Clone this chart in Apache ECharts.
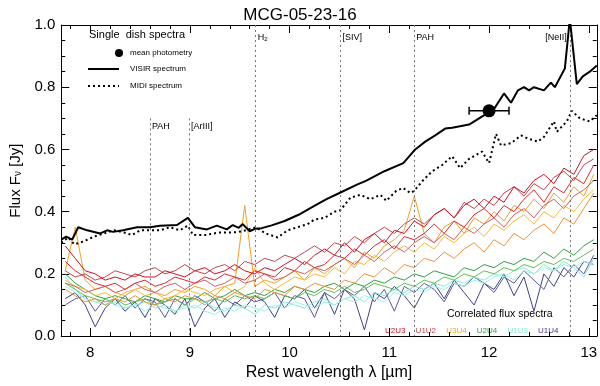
<!DOCTYPE html>
<html>
<head>
<meta charset="utf-8">
<script src="https://cdn.jsdelivr.net/npm/echarts@6/dist/echarts.min.js"></script>
<style>
  html, body { margin: 0; padding: 0; background: #fff; }
  #main { width: 600px; height: 386px; }
</style>
</head>
<body>
<div id="main"></div>
<script>
// wavelength grid of the correlated flux spectra (micron)
var wl = [7.75, 7.85, 7.95, 8.05, 8.15, 8.25, 8.35, 8.45, 8.55, 8.65, 8.75, 8.85, 8.95, 9.05, 9.15, 9.25, 9.35, 9.45, 9.55, 9.65,
  9.75, 9.85, 9.95, 10.05, 10.15, 10.25, 10.35, 10.45, 10.55, 10.65, 10.75, 10.85, 10.95, 11.05, 11.15, 11.25, 11.35, 11.45, 11.55, 11.65,
  11.75, 11.85, 11.95, 12.05, 12.15, 12.25, 12.35, 12.45, 12.55, 12.65, 12.75, 12.85, 12.95, 13.05];

// correlated flux spectra, several per baseline (Jy)
var u2u3a = [0.29,0.25,0.21,0.20,0.18,0.19,0.18,0.20,0.19,0.19,0.21,0.20,0.19,0.21,0.22,0.20,0.21,0.23,0.21,0.20,0.22,0.21,0.23,0.25,0.23,0.26,0.28,0.26,0.30,0.27,0.31,0.33,0.30,0.34,0.33,0.37,0.35,0.39,0.41,0.38,0.42,0.44,0.41,0.45,0.43,0.48,0.46,0.50,0.52,0.49,0.54,0.52,0.58,0.60];
var u2u3b = [0.24,0.21,0.19,0.17,0.16,0.17,0.15,0.17,0.18,0.16,0.17,0.19,0.18,0.17,0.19,0.18,0.20,0.19,0.18,0.21,0.20,0.19,0.22,0.21,0.24,0.22,0.23,0.26,0.25,0.28,0.26,0.29,0.31,0.28,0.32,0.31,0.33,0.36,0.33,0.37,0.35,0.39,0.41,0.38,0.42,0.40,0.44,0.47,0.43,0.48,0.46,0.51,0.49,0.55];
var u1u2a = [0.21,0.19,0.20,0.18,0.19,0.21,0.20,0.19,0.21,0.22,0.20,0.21,0.23,0.21,0.20,0.22,0.23,0.21,0.24,0.23,0.25,0.24,0.26,0.25,0.27,0.29,0.27,0.30,0.29,0.32,0.30,0.33,0.35,0.33,0.36,0.38,0.36,0.39,0.41,0.38,0.43,0.41,0.44,0.42,0.46,0.48,0.45,0.49,0.47,0.51,0.53,0.50,0.55,0.57];
var u1u2b = [0.17,0.16,0.14,0.15,0.16,0.14,0.15,0.17,0.15,0.14,0.16,0.17,0.15,0.17,0.18,0.16,0.17,0.19,0.17,0.18,0.20,0.18,0.19,0.21,0.20,0.22,0.21,0.23,0.25,0.23,0.26,0.24,0.27,0.29,0.27,0.30,0.32,0.30,0.33,0.31,0.35,0.33,0.36,0.38,0.35,0.39,0.41,0.38,0.42,0.44,0.41,0.45,0.47,0.50];
var u3u4a = [0.21,0.35,0.18,0.15,0.16,0.14,0.13,0.15,0.16,0.14,0.13,0.15,0.14,0.16,0.15,0.13,0.16,0.17,0.42,0.16,0.18,0.17,0.19,0.21,0.18,0.22,0.20,0.23,0.25,0.22,0.27,0.25,0.29,0.31,0.34,0.45,0.33,0.30,0.35,0.37,0.33,0.38,0.36,0.40,0.37,0.42,0.40,0.44,0.41,0.46,0.43,0.48,0.45,0.52];
var u3u4b = [0.18,0.16,0.15,0.13,0.14,0.12,0.14,0.15,0.13,0.14,0.12,0.13,0.15,0.14,0.13,0.15,0.16,0.14,0.16,0.22,0.17,0.15,0.17,0.19,0.18,0.20,0.19,0.22,0.20,0.24,0.23,0.26,0.24,0.27,0.29,0.27,0.30,0.28,0.32,0.30,0.33,0.35,0.32,0.36,0.34,0.37,0.39,0.36,0.40,0.38,0.42,0.40,0.44,0.47];
var u3u4c = [0.15,0.13,0.11,0.12,0.10,0.12,0.11,0.13,0.11,0.10,0.12,0.11,0.13,0.12,0.10,0.13,0.12,0.14,0.13,0.12,0.15,0.14,0.13,0.16,0.15,0.17,0.16,0.15,0.18,0.17,0.20,0.19,0.22,0.20,0.23,0.22,0.25,0.24,0.27,0.25,0.28,0.30,0.27,0.31,0.29,0.33,0.31,0.34,0.36,0.33,0.38,0.36,0.41,0.46];
var u2u4a = [0.20,0.17,0.15,0.13,0.12,0.13,0.12,0.11,0.13,0.12,0.11,0.13,0.12,0.12,0.14,0.12,0.13,0.15,0.13,0.14,0.13,0.15,0.14,0.16,0.15,0.14,0.16,0.17,0.15,0.17,0.16,0.18,0.17,0.19,0.18,0.20,0.19,0.21,0.20,0.19,0.22,0.21,0.23,0.22,0.24,0.23,0.25,0.24,0.27,0.25,0.28,0.26,0.29,0.31];
var u2u4b = [0.17,0.15,0.13,0.12,0.11,0.12,0.10,0.11,0.12,0.10,0.11,0.12,0.10,0.12,0.11,0.12,0.11,0.13,0.12,0.13,0.12,0.14,0.13,0.12,0.14,0.13,0.15,0.14,0.16,0.14,0.15,0.17,0.16,0.15,0.17,0.16,0.18,0.17,0.19,0.18,0.20,0.19,0.21,0.20,0.22,0.21,0.23,0.22,0.24,0.23,0.25,0.24,0.26,0.28];
var u1u3a = [0.19,0.15,0.12,0.11,0.10,0.11,0.09,0.10,0.11,0.09,0.10,0.08,0.10,0.09,0.11,0.09,0.08,0.10,0.09,0.07,0.10,0.09,0.11,0.10,0.09,0.11,0.12,0.10,0.12,0.13,0.11,0.14,0.13,0.15,0.14,0.16,0.15,0.17,0.16,0.18,0.17,0.19,0.18,0.20,0.19,0.21,0.22,0.20,0.23,0.21,0.24,0.22,0.19,0.25];
var u1u3b = [0.16,0.14,0.12,0.11,0.12,0.10,0.09,0.10,0.08,0.10,0.09,0.08,0.09,0.10,0.08,0.07,0.09,0.08,0.10,0.09,0.08,0.10,0.09,0.11,0.10,0.09,0.11,0.10,0.12,0.11,0.13,0.12,0.11,0.14,0.13,0.15,0.14,0.16,0.15,0.17,0.16,0.18,0.17,0.19,0.20,0.18,0.21,0.20,0.22,0.21,0.23,0.22,0.24,0.23];
var u1u4a = [0.12,0.14,0.10,0.03,0.09,0.12,0.08,0.11,0.06,0.12,0.10,0.07,0.12,0.03,0.09,0.12,0.06,0.11,0.09,0.13,0.11,0.06,0.13,0.12,0.15,0.09,0.14,0.07,0.15,0.12,0.02,0.14,0.12,0.16,0.13,0.09,0.15,0.17,0.12,0.18,0.14,0.10,0.17,0.15,0.20,0.13,0.19,0.08,0.20,0.16,0.22,0.19,0.24,0.23];
var u1u4b = [0.10,0.12,0.13,0.08,0.12,0.10,0.13,0.09,0.12,0.11,0.06,0.12,0.10,0.13,0.11,0.08,0.12,0.10,0.13,0.11,0.12,0.14,0.09,0.13,0.12,0.06,0.14,0.12,0.15,0.13,0.16,0.11,0.15,0.08,0.16,0.14,0.17,0.15,0.11,0.17,0.16,0.19,0.17,0.14,0.19,0.17,0.21,0.18,0.15,0.22,0.19,0.23,0.20,0.26];

// single dish spectra
var visirWl = [7.71,7.76,7.82,7.88,7.97,8.10,8.17,8.23,8.33,8.47,8.60,8.70,8.87,8.98,9.05,9.17,9.27,9.37,9.43,9.49,9.53,9.60,9.65,9.72,9.82,9.95,10.09,10.23,10.37,10.50,10.67,10.77,10.95,11.14,11.26,11.36,11.46,11.56,11.63,11.80,11.90,12.00,12.05,12.09,12.15,12.22,12.29,12.35,12.40,12.45,12.55,12.62,12.66,12.71,12.76,12.81,12.88,12.94,13.01,13.08];
var visirFlux = [0.31,0.32,0.31,0.35,0.34,0.33,0.34,0.335,0.34,0.35,0.35,0.355,0.357,0.38,0.35,0.343,0.355,0.343,0.357,0.348,0.36,0.337,0.345,0.347,0.356,0.37,0.39,0.415,0.44,0.46,0.486,0.50,0.53,0.556,0.60,0.625,0.645,0.667,0.67,0.68,0.70,0.72,0.73,0.75,0.78,0.75,0.79,0.80,0.79,0.80,0.79,0.815,0.80,0.83,0.86,1.02,0.81,0.835,0.85,0.87];
var midiWl = [7.71,7.78,7.84,7.94,8.04,8.14,8.24,8.34,8.42,8.50,8.60,8.70,8.80,8.90,8.98,9.03,9.16,9.29,9.42,9.49,9.56,9.66,9.76,9.88,9.98,10.08,10.18,10.25,10.35,10.45,10.51,10.61,10.71,10.81,10.91,10.97,11.07,11.14,11.21,11.25,11.33,11.43,11.53,11.63,11.71,11.80,11.93,12.00,12.07,12.12,12.22,12.32,12.39,12.49,12.55,12.65,12.68,12.78,12.83,12.91,13.01,13.08];
var midiFlux = [0.30,0.317,0.295,0.305,0.32,0.33,0.34,0.333,0.325,0.34,0.34,0.34,0.35,0.34,0.355,0.325,0.325,0.333,0.333,0.335,0.34,0.35,0.33,0.317,0.34,0.35,0.36,0.375,0.38,0.40,0.405,0.445,0.454,0.44,0.454,0.435,0.467,0.476,0.46,0.467,0.498,0.53,0.55,0.578,0.54,0.57,0.593,0.556,0.65,0.613,0.62,0.645,0.635,0.625,0.64,0.69,0.657,0.69,0.724,0.70,0.69,0.71];

// mean photometry
var photWl = 12.0, photErr = 0.2, photFlux = 0.724;

// spectral features
var featWl = [8.6, 8.99, 9.66, 10.51, 11.25, 12.81];
var featTop = [0.70, 0.70, 1.0, 1.0, 1.0, 1.0];
var featLabelY = [0.675, 0.675, 0.96, 0.96, 0.96, 0.96];
var featNames = ['PAH', '[ArIII]', 'H{s|2}', '[SIV]', 'PAH', '[NeII]'];

var baselines = ['U2U3', 'U1U2', 'U3U4', 'U2U4', 'U1U3', 'U1U4'];
var baseColors = ['#cc1020', '#c04850', '#f0a820', '#30a040', '#80ecd8', '#404088'];

var font = 'Liberation Sans, Arial, sans-serif';

function pairs(xs, ys) {
    return xs.map(function (x, i) { return [x, ys[i]]; });
}

function corr(name, ys, color) {
    return {
        name: name, type: 'line', data: pairs(wl, ys),
        showSymbol: false, symbol: 'none', silent: true,
        lineStyle: { color: color, width: 1 },
        z: 2
    };
}

var myChart = echarts.init(document.getElementById('main'));

var featData = featWl.map(function (x, i) {
    return { value: [x, featLabelY[i]], name: featNames[i],
        label: { position: i === 5 ? 'left' : 'right', distance: i === 5 ? 3 : 2 } };
});
var featLines = featWl.map(function (x, i) {
    return [{ coord: [x, featTop[i]] }, { coord: [x, 0] }];
});

var axisBlack = { color: '#000', width: 1 };

var option = {
    animation: false,
    title: {
        text: 'MCG-05-23-16', left: 'center', top: 2,
        textStyle: { fontFamily: font, fontSize: 17, fontWeight: 'normal', color: '#000' }
    },
    grid: { left: 53, right: 3, top: 25, bottom: 44 },
    xAxis: [{
        type: 'value', min: 7.71, max: 13.08,
        name: 'Rest wavelength λ [µm]', nameLocation: 'middle', nameGap: 25,
        nameTextStyle: { fontFamily: font, fontSize: 16, color: '#000' },
        axisLine: { onZero: false, lineStyle: axisBlack },
        axisTick: { inside: true, length: 8, lineStyle: axisBlack },
        minorTick: { show: true, splitNumber: 5, length: 4, lineStyle: axisBlack },
        axisLabel: { fontFamily: font, fontSize: 15, color: '#000', margin: 9,
            showMinLabel: false, showMaxLabel: false,
            formatter: function (v) { return Math.abs(v - Math.round(v)) < 1e-6 ? String(Math.round(v)) : ''; } },
        splitLine: { show: false }
    }, {
        type: 'value', min: 7.71, max: 13.08, position: 'top',
        axisLine: { onZero: false, lineStyle: axisBlack },
        axisTick: { inside: true, length: 8, lineStyle: axisBlack },
        minorTick: { show: true, splitNumber: 5, length: 4, lineStyle: axisBlack },
        axisLabel: { show: false },
        splitLine: { show: false }
    }],
    yAxis: [{
        type: 'value', min: 0, max: 1, interval: 0.2,
        name: 'Flux F{sub|ν} [Jy]', nameLocation: 'middle', nameGap: 31,
        nameTextStyle: { fontFamily: font, fontSize: 15, color: '#000',
            rich: { sub: { fontFamily: font, fontSize: 10, color: '#000', verticalAlign: 'bottom', padding: [6, 0, 0, 0] } } },
        axisLine: { show: true, lineStyle: axisBlack },
        axisTick: { inside: true, length: 8, lineStyle: axisBlack },
        minorTick: { show: true, splitNumber: 4, length: 4, lineStyle: axisBlack },
        axisLabel: { fontFamily: font, fontSize: 15, color: '#000', margin: 6,
            formatter: function (v) { return v.toFixed(1); } },
        splitLine: { show: false }
    }, {
        type: 'value', min: 0, max: 1, interval: 0.2, position: 'right',
        axisLine: { show: true, lineStyle: axisBlack },
        axisTick: { inside: true, length: 8, lineStyle: axisBlack },
        minorTick: { show: true, splitNumber: 4, length: 4, lineStyle: axisBlack },
        axisLabel: { show: false },
        splitLine: { show: false }
    }],
    series: [
        corr('U1U4', u1u4a, baseColors[5]),
        corr('U1U4', u1u4b, '#5858a0'),
        corr('U1U3', u1u3a, baseColors[4]),
        corr('U1U3', u1u3b, '#a0f0e0'),
        corr('U2U4', u2u4a, baseColors[3]),
        corr('U2U4', u2u4b, '#60c050'),
        corr('U3U4', u3u4a, '#f0a020'),
        corr('U3U4', u3u4b, '#f8b838'),
        corr('U3U4', u3u4c, '#f09030'),
        corr('U1U2', u1u2a, baseColors[1]),
        corr('U1U2', u1u2b, '#c86068'),
        corr('U2U3', u2u3a, baseColors[0]),
        corr('U2U3', u2u3b, '#e02828'),
        {
            name: 'features', type: 'scatter', symbolSize: 0, silent: true, z: 1,
            itemStyle: { color: '#000', opacity: 1 },
            data: featData,
            label: {
                show: true, formatter: '{b}', fontFamily: font, fontSize: 9, color: '#000',
                rich: { s: { fontFamily: font, fontSize: 6, color: '#000', verticalAlign: 'bottom', padding: [4, 0, 0, 0] } }
            },
            markLine: {
                silent: true, symbol: 'none', label: { show: false },
                lineStyle: { color: '#777', type: [2, 3], width: 1 },
                data: featLines
            }
        },
        {
            name: 'MIDI spectrum', type: 'line', data: pairs(midiWl, midiFlux),
            showSymbol: false, symbol: 'none', silent: true, z: 4,
            lineStyle: { color: '#000', width: 2, type: [2, 3] }
        },
        {
            name: 'VISIR spectrum', type: 'line', data: pairs(visirWl, visirFlux),
            showSymbol: false, symbol: 'none', silent: true, z: 5, clip: true,
            lineStyle: { color: '#000', width: 2 }
        },
        {
            name: 'error', type: 'line', silent: true, z: 6,
            data: [[photWl - photErr, photFlux], [photWl + photErr, photFlux]],
            symbol: 'rect', symbolSize: [1.5, 8], showSymbol: true,
            itemStyle: { color: '#000' }, lineStyle: { color: '#000', width: 1.5 }
        },
        {
            name: 'mean photometry', type: 'scatter', silent: true, z: 7,
            data: [[photWl, photFlux]], symbolSize: 13, itemStyle: { color: '#000', opacity: 1 }
        }
    ],
    graphic: [
        { type: 'text', left: 89, top: 29, style: { text: 'Single  dish spectra', font: '11px ' + font, fill: '#000' } },
        { type: 'circle', shape: { cx: 119, cy: 53, r: 4 }, style: { fill: '#000' } },
        { type: 'text', left: 130, top: 49, style: { text: 'mean photometry', font: '8px ' + font, fill: '#000' } },
        { type: 'line', shape: { x1: 88, y1: 69, x2: 119, y2: 69 }, style: { stroke: '#000', lineWidth: 2 } },
        { type: 'text', left: 130, top: 65, style: { text: 'VISIR spectrum', font: '8px ' + font, fill: '#000' } },
        { type: 'line', shape: { x1: 88, y1: 86, x2: 119, y2: 86 }, style: { stroke: '#000', lineWidth: 2, lineDash: [2, 3] } },
        { type: 'text', left: 130, top: 82, style: { text: 'MIDI spectrum', font: '8px ' + font, fill: '#000' } },
        { type: 'text', left: 447, top: 309, style: { text: 'Correlated flux spectra', font: '10.5px ' + font, fill: '#000' } }
    ].concat(baselines.map(function (b, i) {
        return { type: 'text', left: 385 + i * 30.6, top: 327,
            style: { text: b, font: '8px ' + font, fill: baseColors[i] } };
    }))
};

myChart.setOption(option);
</script>
</body>
</html>
